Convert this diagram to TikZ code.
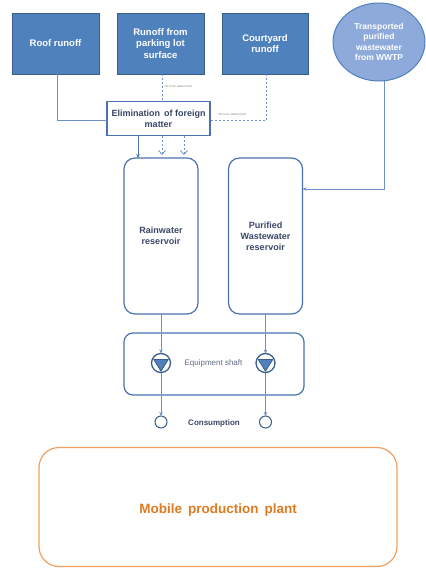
\documentclass[tikz,border=0pt]{standalone}
\usepackage{fontspec}
\setmainfont{Liberation Sans}
\usetikzlibrary{arrows.meta,shapes.geometric}
\definecolor{boxblue}{HTML}{4F81BD}
\definecolor{boxedge}{HTML}{385D8A}
\definecolor{ellfill}{HTML}{8EAADB}
\definecolor{lineblue}{HTML}{6F8FC8}
\definecolor{darkline}{HTML}{4A72B0}
\definecolor{txtdark}{HTML}{3A4666}
\definecolor{plantorange}{HTML}{F0A060}
\definecolor{planttext}{HTML}{E07A20}
\tikzset{
  srcbox/.style={rectangle, draw=boxedge, line width=1pt, fill=boxblue, text=white,
    font=\fontsize{9.5}{11.5}\selectfont\bfseries, align=center,
    minimum width=87pt, minimum height=61pt, inner sep=2pt, outer sep=0pt},
  resbox/.style={rectangle, rounded corners=11pt, draw=darkline, line width=1.2pt,
    text=txtdark, font=\fontsize{9}{11}\selectfont\bfseries, align=center,
    minimum width=74pt, minimum height=156pt, outer sep=0pt},
  pumpnode/.style={circle, draw=boxedge, line width=1.3pt, fill=white,
    minimum size=19pt, inner sep=0pt, outer sep=0pt},
  consnode/.style={circle, draw=boxedge, line width=1pt, minimum size=12pt,
    inner sep=0pt, outer sep=0pt},
  conn/.style={draw=lineblue, line width=0.9pt},
  dconn/.style={draw=lineblue, line width=0.8pt, dash pattern=on 2pt off 2pt},
  tip/.style={-{Stealth[length=4pt,width=3.5pt]}},
  opentip/.style={-{Straight Barb[length=4pt,width=7pt]}},
  tbd/.style={font=\fontsize{3}{3.5}\selectfont, text=gray, inner sep=0pt, anchor=west}
}
\begin{document}
\begin{tikzpicture}[x=1pt,y=-1pt]
\useasboundingbox (0,0) rectangle (426,568);

% source boxes
\node[srcbox] (roof) at (55.5,43.5) {Roof runoff};
\node[srcbox] (park) at (160.5,43.5) {Runoff from\\parking lot\\surface};
\node[srcbox, minimum width=86pt] (court) at (265,43.5) {Courtyard\\runoff};
\node[ellipse, draw=boxblue, line width=1pt, fill=ellfill, text=white,
  minimum width=92pt, minimum height=78pt, inner sep=0pt, outer sep=0pt,
  align=center, font=\fontsize{8.5}{10.5}\selectfont\bfseries] (wwtp) at (379,42)
  {Transported\\purified\\wastewater\\from WWTP};

% elimination
\node[rectangle, draw=darkline, line width=1.2pt, fill=white, text=txtdark,
  font=\fontsize{9}{11}\selectfont\bfseries, align=center,
  minimum width=103pt, minimum height=34pt, inner sep=1pt, outer sep=0pt]
  (elim) at (158.5,118.5) {Elimination\, of foreign\\matter};

% reservoirs
\node[resbox] (rain) at (161,236) {Rainwater\\reservoir};
\node[resbox] (pur) at (265.5,236) {Purified\\Wastewater\\reservoir};

% equipment shaft
\node[rectangle, rounded corners=9pt, draw=darkline, line width=1.2pt,
  minimum width=180pt, minimum height=62pt, outer sep=0pt] (shaft) at (214,364) {};
\node[text=txtdark!80, font=\fontsize{8}{10}\selectfont] (shafttxt) at (213.5,363) {Equipment shaft};

% pumps
\node[pumpnode] (pump1) at (161,363) {};
\node[pumpnode] (pump2) at (265.5,363) {};
\foreach \p in {pump1,pump2}{
  \filldraw[fill=boxblue, draw=boxedge, line width=0.8pt, line join=round]
    ([shift={(-7.3pt,3.6pt)}]\p.center) -- ([shift={(7.3pt,3.6pt)}]\p.center)
    -- ([shift={(0pt,-8.2pt)}]\p.center) -- cycle;
}

% consumption
\node[consnode] (cons1) at (161,422) {};
\node[consnode] (cons2) at (265.5,422) {};
\node[text=txtdark, font=\fontsize{8}{10}\selectfont\bfseries] (constxt) at (214,423) {Consumption};

% plant
\node[rectangle, rounded corners=20pt, draw=plantorange, line width=1.2pt,
  minimum width=358pt, minimum height=119pt, outer sep=0pt] (plant) at (218,507) {};
\node[text=planttext, font=\fontsize{13.5}{15}\selectfont\bfseries] (planttxt) at (218,510)
  {Mobile\, production\, plant};

% connectors
\draw[conn] ([xshift=1.5pt]roof.south) |- ([yshift=-2pt]elim.west);
\draw[dconn] ([xshift=1.5pt]park.south) -- ([xshift=1.5pt]park.south |- elim.north);
\draw[dconn] ([xshift=1pt]court.south) |- ([yshift=-2pt]elim.east);
\node[tbd] (tbd1) at (164,86) {Yet to be determined};
\node[tbd] (tbd2) at (218,114.5) {Yet to be determined};

\coordinate (e1) at ([xshift=-20.5pt]elim.south);
\coordinate (e2) at ([xshift=3.5pt]elim.south);
\coordinate (e3) at ([xshift=25.5pt]elim.south);
\draw[conn, draw=darkline, -{Stealth[length=4pt,width=3.5pt,fill=darkline]}] (e1) -- (e1 |- rain.north);
\draw[dconn, opentip] (e2) -- ([yshift=3pt]e2 |- rain.north);
\draw[dconn, opentip] (e3) -- ([yshift=3pt]e3 |- rain.north);

\coordinate (wtop) at ([xshift=5pt]wwtp.south);
\draw[conn, tip] (wtop) |- ([yshift=47pt]pur.east);

\draw[conn, tip] (rain.south) -- (pump1.north);
\draw[conn, tip] (pur.south) -- (pump2.north);
\draw[conn, tip] (pump1.south) -- (cons1.north);
\draw[conn, tip] (pump2.south) -- (cons2.north);
\end{tikzpicture}
\end{document}
